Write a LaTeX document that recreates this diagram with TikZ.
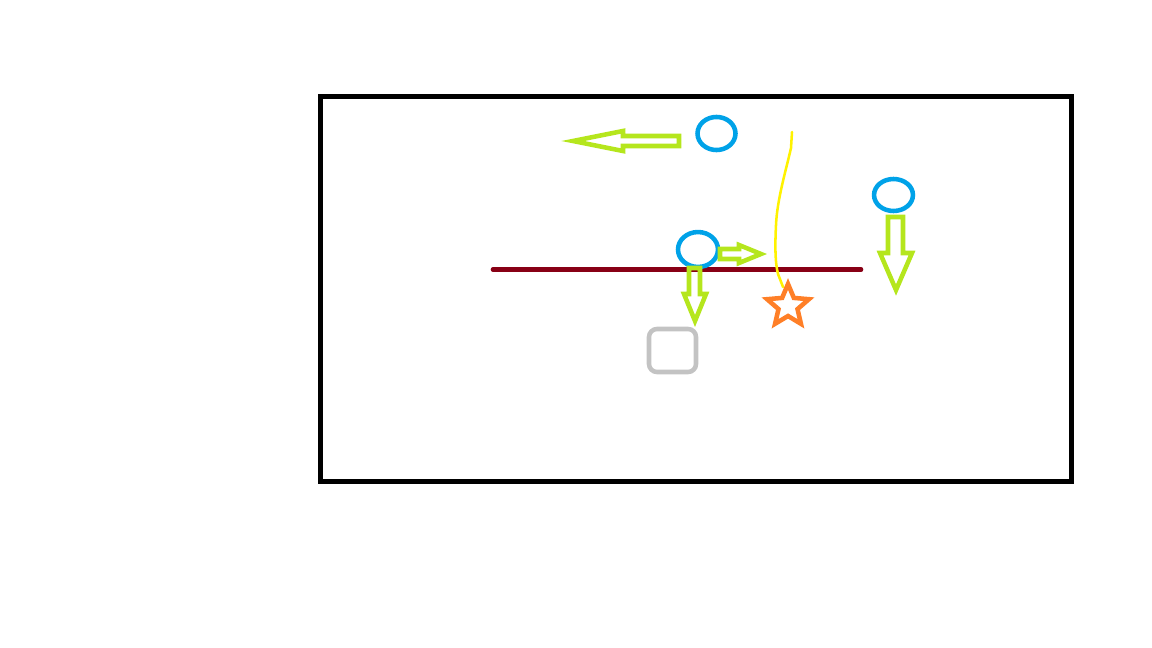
\documentclass[tikz,border=0pt]{standalone}
\definecolor{lime}{RGB}{181,230,29}
\definecolor{pblue}{RGB}{0,162,232}
\definecolor{dred}{RGB}{136,0,21}
\definecolor{pgray}{RGB}{195,195,195}
\definecolor{pyellow}{RGB}{255,242,0}
\definecolor{porange}{RGB}{255,127,39}
\tikzset{
  frame/.style={draw=black, line width=3.75pt},
  arrowshape/.style={draw=lime, line width=3.4pt, line join=miter},
  player/.style={draw=pblue, line width=3.4pt},
}
\begin{document}
\begin{tikzpicture}[x=0.75pt,y=-0.75pt]
\useasboundingbox (0,0) rectangle (1152,648);
% frame
\draw[frame] (320,96.5) rectangle (1071,481);
% dark red line
\draw[dred, line width=3.5pt, line cap=round] (493,269.5) -- (861,269.5);
% gray rounded square
\draw[pgray, line width=3.4pt, rounded corners=6pt] (649,329) rectangle (696,372);
% yellow curve
\draw[pyellow, line width=1.9pt, line cap=round] (792,132) -- (791,148) .. controls (786,170) and (777,200) .. (776,225) .. controls (775,245) and (775,262) .. (778,274) -- (783,287);
% star
\begin{scope}[shift={(788,306)}]
\draw[porange, line width=3.4pt, line join=miter]
  (270:22) -- (306:10) -- (342:22) -- (18:10) -- (54:22) -- (90:10) -- (126:22) -- (162:10) -- (198:22) -- (234:10) -- cycle;
\end{scope}
% players
\draw[player] (716.5,133.5) ellipse [x radius=14.25pt, y radius=12.4pt];
\draw[player] (698,249.5) ellipse [x radius=15pt, y radius=13.1pt];
\draw[player] (893.5,195) ellipse [x radius=14.6pt, y radius=12pt];
% arrows
\draw[arrowshape] (679,136) -- (623,136) -- (623,131) -- (573,141) -- (623,151) -- (623,146) -- (679,146) -- cycle;
\draw[arrowshape] (720,249) -- (739,249) -- (739,245) -- (761,254) -- (739,263) -- (739,259) -- (720,259) -- cycle;
\draw[arrowshape] (689,268) -- (689,294) -- (684,294) -- (695,321) -- (706,294) -- (700,294) -- (700,268) -- cycle;
\draw[arrowshape] (888,217) -- (888,253) -- (880,253) -- (896,290) -- (912,253) -- (903,253) -- (903,217) -- cycle;
\end{tikzpicture}
\end{document}
